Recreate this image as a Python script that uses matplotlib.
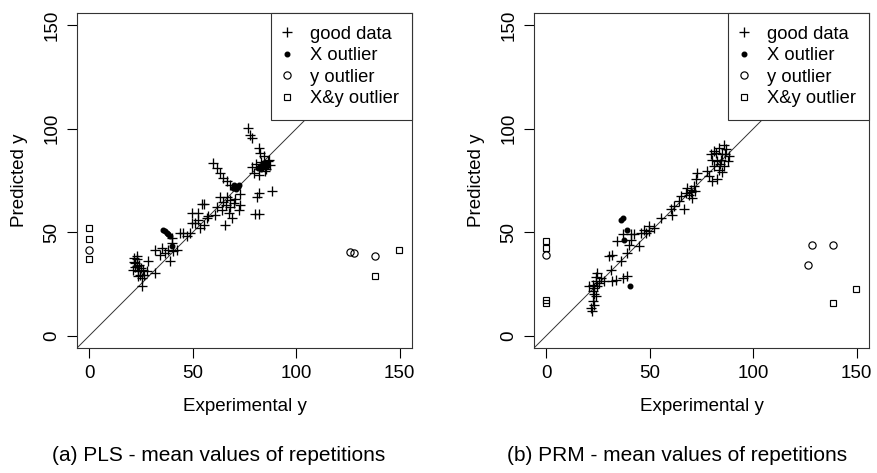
import matplotlib
matplotlib.use("Agg")
import matplotlib.pyplot as plt
from matplotlib.lines import Line2D

plt.rcParams["font.family"] = ["Liberation Sans", "DejaVu Sans"]

# ---- panel (a): PLS ----
pls_good_x = [76.5, 77.7, 78.5, 81.8, 82.6, 84.2, 78.5, 79.4, 86.6, 87.4, 85.0, 81.8,
              88.2, 81.8, 81.0, 80.2, 81.8, 60.0, 61.6, 63.2, 64.8, 66.5, 68.1,
              66.5, 68.1, 64.8, 69.7, 73.0, 72.2, 68.1, 64.0, 67.3, 68.9, 65.6, 61.6,
              60.8, 54.3, 57.5, 52.7, 49.5, 63.2, 73.0, 70.5, 66.0,
              49.5, 52.7, 51.1, 55.2, 53.6, 55.2, 56.8,
              43.9, 45.5, 48.7, 47.1,
              31.8, 35.0, 36.6, 38.2, 39.0, 40.6, 42.3, 34.2, 39.9, 39.9,
              21.4, 22.1, 22.9, 23.7, 24.5, 25.3, 21.3, 26.1, 28.5, 27.8, 31.8,
              25.3, 22.9, 24.2, 22.0, 23.5, 24.8, 21.8, 23.0, 26.5,
              83.0, 85.5, 80.5, 87.0]
pls_good_y = [100.5, 97.2, 95.6, 90.8, 88.4, 86.8, 81.3, 78.7, 84.3, 82.7, 79.5, 77.9,
              69.8, 69.0, 67.1, 58.6, 58.6, 83.5, 81.1, 78.7, 76.3, 74.6, 73.0,
              67.1, 65.5, 64.7, 64.1, 63.3, 60.9, 62.3, 60.9, 59.2, 56.8, 53.5, 62.3,
              58.3, 63.6, 58.0, 56.1, 54.5, 67.1, 68.6, 66.0, 63.0,
              59.4, 59.4, 54.5, 53.7, 52.1, 63.4, 56.9,
              49.7, 49.7, 49.7, 48.0,
              41.6, 42.4, 40.0, 41.6, 36.0, 40.8, 41.6, 39.2, 44.8, 47.3,
              37.6, 35.2, 33.5, 31.1, 29.5, 27.9, 31.9, 31.9, 36.0, 31.1, 30.3,
              24.2, 36.8, 34.3, 33.0, 29.0, 32.5, 35.5, 38.5, 29.5,
              84.0, 80.5, 83.0, 85.0]
pls_xout_x = [35.8, 36.6, 37.4, 38.2, 39.0, 39.9,
              69.5, 70.5, 71.0, 71.8, 72.5, 70.0,
              81.5, 82.5, 83.5, 84.5, 85.5, 86.0, 83.0, 84.0]
pls_xout_y = [51.3, 50.5, 49.7, 48.9, 48.1, 43.2,
              71.5, 72.5, 71.0, 72.0, 73.0, 73.0,
              81.0, 82.0, 81.5, 82.5, 83.5, 82.0, 80.5, 83.5]
pls_yout_x = [0, 126.1, 128.1, 138.2]
pls_yout_y = [41.6, 40.3, 39.7, 38.7]
pls_xyout_x = [0, 0, 0, 149.5, 138.2]
pls_xyout_y = [52.1, 46.8, 37.1, 41.6, 29.0]

# ---- panel (b): PRM ----
prm_good_x = [36.8, 40.8, 42.4, 45.6, 48.0, 49.6, 52.1, 34.3, 40.0, 40.8, 44.8, 39.2,
              36.0, 31.9, 30.3, 31.1, 36.8, 33.5, 31.9, 39.2, 27.9,
              24.7, 26.3, 23.9, 22.3, 23.0, 24.7, 22.3, 23.9, 22.3, 23.0, 21.4, 21.9,
              25.5, 20.6, 24.0, 22.8,
              47.2, 49.6, 55.3, 60.1, 61.7, 60.9, 64.1, 66.6, 65.0, 67.4, 69.8, 71.4,
              72.2, 73.0, 69.0, 70.6, 68.2, 70.0, 71.8,
              78.7, 80.3, 82.7, 77.9, 80.3, 82.0, 83.6, 86.0, 86.8, 84.4, 86.0, 83.6,
              87.6, 88.4, 81.1, 79.5, 85.1, 84.0, 82.5, 81.0, 86.5, 84.8]
prm_good_y = [48.9, 48.9, 48.9, 49.7, 49.7, 50.5, 52.1, 45.6, 44.0, 46.4, 43.2, 40.0,
              36.0, 39.2, 38.4, 31.9, 27.9, 27.1, 26.3, 28.7, 26.3,
              30.3, 27.9, 26.3, 24.7, 23.1, 23.9, 21.4, 19.0, 16.6, 15.0, 13.4, 11.8,
              25.5, 23.9, 28.5, 20.0,
              51.3, 52.9, 56.9, 61.0, 62.6, 58.5, 65.0, 61.0, 67.4, 69.0, 70.6, 72.2,
              75.5, 78.7, 68.2, 66.6, 71.5, 69.5, 70.0,
              77.1, 74.7, 75.5, 79.5, 85.1, 88.4, 90.8, 92.4, 90.0, 85.1, 81.9, 80.3,
              84.3, 86.7, 81.9, 87.6, 87.6, 83.0, 84.5, 89.5, 88.0, 79.0]
prm_xout_x = [36.3, 37.0, 39.2, 37.5, 40.3]
prm_xout_y = [56.1, 57.0, 51.3, 46.4, 24.2]
prm_yout_x = [0, 128.2, 138.4, 126.3]
prm_yout_y = [39.2, 44.0, 43.7, 34.3]
prm_xyout_x = [0, 0, 0, 0, 149.6, 138.4]
prm_xyout_y = [45.6, 42.6, 17.4, 15.8, 22.3, 15.8]

ticks = [0, 50, 100, 150]
legend_labels = ["good data", "X outlier", "y outlier", "X&y outlier"]
captions = ["(a) PLS - mean values of repetitions",
            "(b) PRM - mean values of repetitions"]

PLUS = dict(marker="+", linestyle="none", color="black", markersize=7.8, markeredgewidth=0.95)
DOT = dict(marker="o", linestyle="none", color="black", markersize=3.3)
CIRC = dict(marker="o", linestyle="none", markerfacecolor="none", markeredgecolor="black",
            markersize=5.2, markeredgewidth=0.85)
SQ = dict(marker="s", linestyle="none", markerfacecolor="none", markeredgecolor="black",
          markersize=5, markeredgewidth=0.85)


def draw_panel(ax, good, xout, yout, xyout):
    ax.axline((0, 0), slope=1, color="#333333", linewidth=0.7, zorder=1)
    ax.plot(*good, **PLUS, zorder=3)
    ax.plot(*xout, **DOT, zorder=3)
    ax.plot(*yout, **CIRC, zorder=3)
    ax.plot(*xyout, **SQ, zorder=3)
    ax.set_xlim(-6, 156)
    ax.set_ylim(-6, 156)
    ax.set_xticks(ticks)
    ax.set_yticks(ticks)
    ax.tick_params(direction="out", length=7, width=0.8, labelsize=13.5, pad=5)
    for lbl in ax.get_yticklabels():
        lbl.set_rotation(90)
        lbl.set_va("center")
    for s in ax.spines.values():
        s.set_linewidth(0.8)
        s.set_color("#333333")
    ax.set_xlabel("Experimental y", fontsize=13.5, labelpad=12)
    ax.set_ylabel("Predicted y", fontsize=13.5, labelpad=11)
    handles = [Line2D([], [], **PLUS), Line2D([], [], **DOT),
               Line2D([], [], **CIRC), Line2D([], [], **SQ)]
    leg = ax.legend(handles, legend_labels, loc="upper right", borderaxespad=0,
                    fancybox=False, framealpha=1, edgecolor="#333333", fontsize=13.2,
                    handlelength=0.4, handletextpad=1.05, labelspacing=0.24,
                    borderpad=0.7)
    leg.get_frame().set_linewidth(0.8)
    leg.set_zorder(5)


fig = plt.figure(figsize=(8.77, 4.73), dpi=100)
ax1 = fig.add_axes([77 / 877, 1 - 348 / 473, 335 / 877, 335 / 473])
ax2 = fig.add_axes([534 / 877, 1 - 348 / 473, 335 / 877, 335 / 473])

draw_panel(ax1, (pls_good_x, pls_good_y), (pls_xout_x, pls_xout_y),
           (pls_yout_x, pls_yout_y), (pls_xyout_x, pls_xyout_y))
draw_panel(ax2, (prm_good_x, prm_good_y), (prm_xout_x, prm_xout_y),
           (prm_yout_x, prm_yout_y), (prm_xyout_x, prm_xyout_y))

fig.text(219 / 877, 1 - 455 / 473, captions[0], ha="center", va="center", fontsize=15)
fig.text(677 / 877, 1 - 455 / 473, captions[1], ha="center", va="center", fontsize=15)

fig.savefig("out.png", dpi=100)
